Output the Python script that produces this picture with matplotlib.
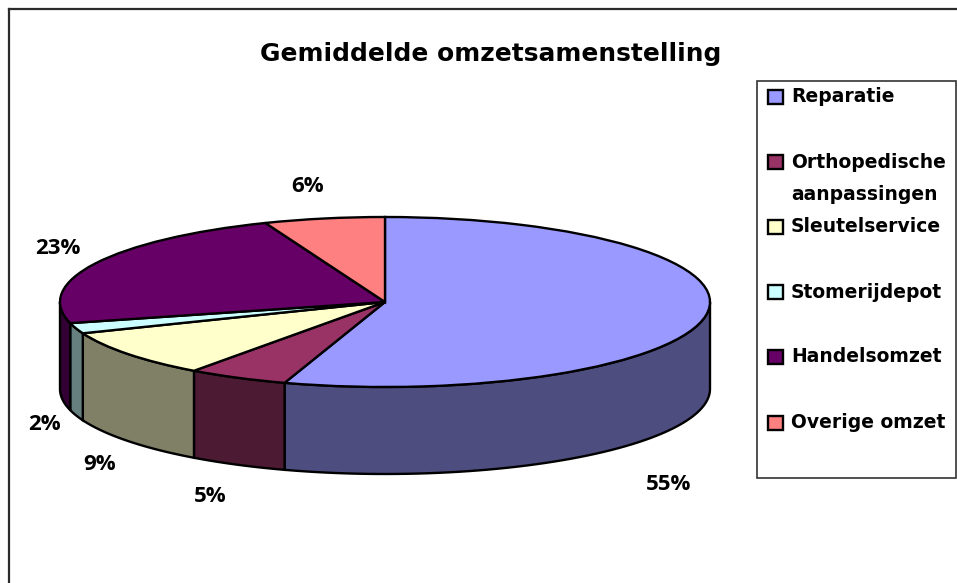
# Gemiddelde omzetsamenstelling - 3D style pie

import numpy as np
import matplotlib
matplotlib.use("Agg")
import matplotlib.pyplot as plt
from matplotlib.patches import Wedge, Polygon, Rectangle
from matplotlib.transforms import Affine2D

# --------------------------------------------------
# Data
# --------------------------------------------------
title = "Gemiddelde omzetsamenstelling"
categories = ["Reparatie", "Orthopedische\naanpassingen", "Sleutelservice",
              "Stomerijdepot", "Handelsomzet", "Overige omzet"]
values = [55, 5, 9, 2, 23, 6]
top_colors = ["#9999FF", "#993366", "#FFFFCC", "#CCFFFF", "#660066", "#FF8080"]
side_colors = ["#4D4D80", "#4D1A33", "#808066", "#668080", "#330033", "#804040"]

W, H = 957, 583
font = "DejaVu Sans"
label_font = "Open Sans"

fig = plt.figure(figsize=(W / 100, H / 100), dpi=100)
ax = fig.add_axes([0, 0, 1, 1])
ax.set_xlim(0, W)
ax.set_ylim(H, 0)
ax.axis("off")

# chart frame
ax.plot([9, 9], [H, 9], color="#2b2b2b", lw=1.6)
ax.plot([9, W], [9, 9], color="#2b2b2b", lw=1.6)

# --------------------------------------------------
# Pie geometry (pixels)
# --------------------------------------------------
cx, cy = 385, 302
rx, ry = 325, 85
depth = 87

fractions = np.array(values) / sum(values)
ends = 90 - 360 * np.cumsum(fractions)
starts = np.r_[90, ends[:-1]]

# side walls first, only the front half is visible
for start, end, col in zip(starts, ends, side_colors):
    lo = max(end, -180)
    hi = min(start, 0)
    if lo >= hi:
        continue
    t = np.radians(np.linspace(lo, hi, 60))
    x = cx + rx * np.cos(t)
    y = cy - ry * np.sin(t)
    pts = np.r_[np.c_[x, y], np.c_[x[::-1], y[::-1] + depth]]
    ax.add_patch(Polygon(pts, closed=True, facecolor=col, edgecolor="black", lw=1.7))

# top face, y axis runs down so the ellipse scale is flipped
tr = Affine2D().scale(rx, -ry).translate(cx, cy) + ax.transData
for start, end, col in zip(starts, ends, top_colors):
    ax.add_patch(Wedge((0, 0), 1, end, start, facecolor=col, edgecolor="black",
                       lw=1.7, transform=tr))

# --------------------------------------------------
# Text
# --------------------------------------------------
ax.text(491, 54, title, ha="center", va="center", fontsize=17.9,
        fontweight="bold", family=font)

label_x = [669, 210, 100, 44, 58, 308]
label_y = [485, 497, 465, 424, 248, 187]
for v, lx, ly in zip(values, label_x, label_y):
    ax.text(lx, ly, f"{v}%", ha="center", va="center", fontsize=16,
            fontweight="bold", family=label_font)

# --------------------------------------------------
# Legend
# --------------------------------------------------
ax.add_patch(Rectangle((757, 81), 199, 397, facecolor="white",
                       edgecolor="#333333", lw=1.2))
legend_y = [97, 162, 227, 292, 357, 423]
for name, col, ly in zip(categories, top_colors, legend_y):
    ax.add_patch(Rectangle((768, ly - 7), 15, 14, facecolor=col,
                           edgecolor="black", lw=1.7))
    ax.text(791, ly, name.split("\n")[0], ha="left", va="center", fontsize=13.5,
            fontweight="bold", family=font)
    if "\n" in name:
        ax.text(791, ly + 33, name.split("\n")[1], ha="left", va="center",
                fontsize=13.5, fontweight="bold", family=font)

fig.savefig("out.png", dpi=100)
